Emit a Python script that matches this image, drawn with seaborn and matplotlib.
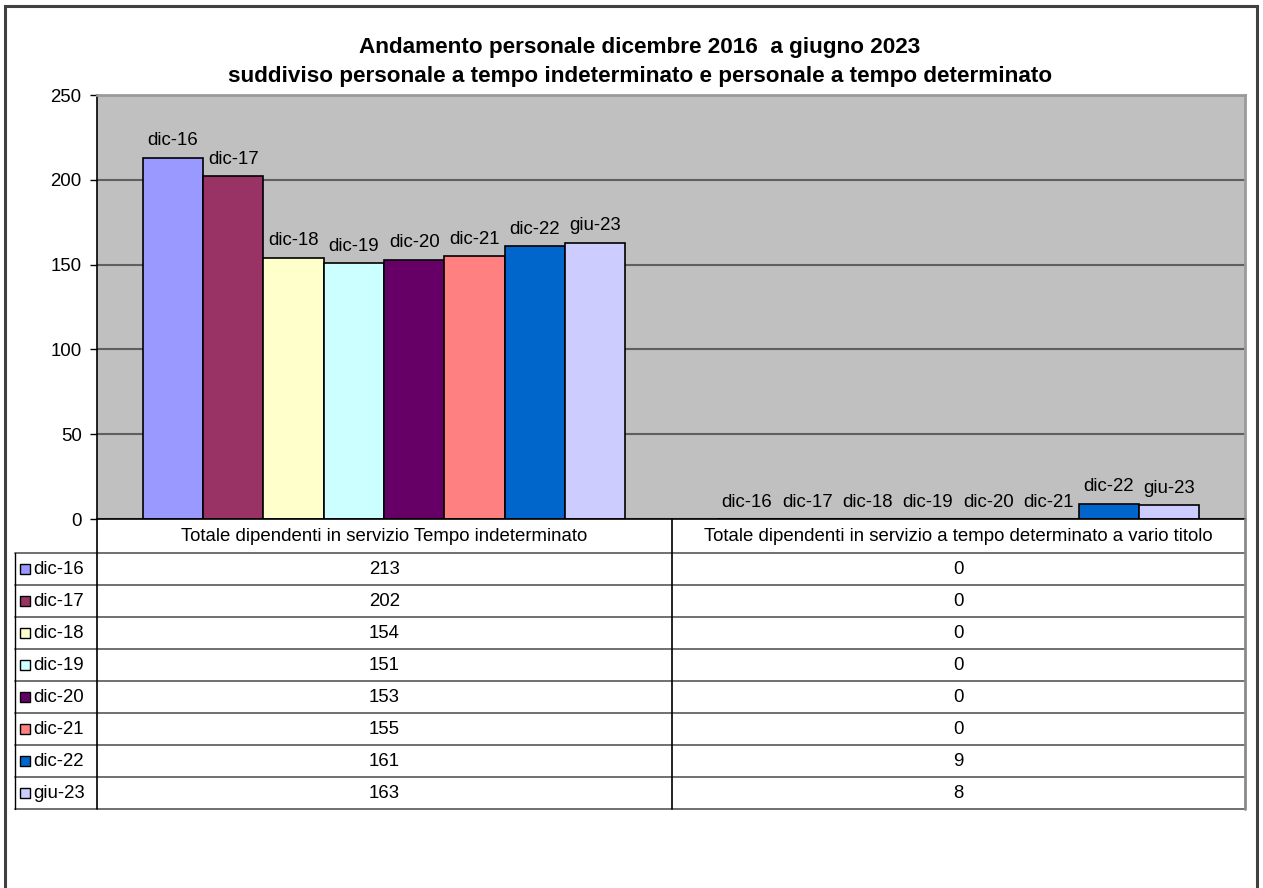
import pandas as pd
import matplotlib
matplotlib.use('Agg')
import matplotlib.pyplot as plt
from matplotlib.lines import Line2D
from matplotlib.patches import Rectangle
import seaborn as sns

# ── Data ──────────────────────────────────────────────────────────────────────
periodi    = ["dic-16", "dic-17", "dic-18", "dic-19", "dic-20", "dic-21", "dic-22", "giu-23"]
categorie  = ["Totale dipendenti in servizio Tempo indeterminato",
              "Totale dipendenti in servizio a tempo determinato a vario titolo"]
tempo_ind  = [213, 202, 154, 151, 153, 155, 161, 163]
tempo_det  = [0, 0, 0, 0, 0, 0, 9, 8]
colori     = ["#9999FF", "#993366", "#FFFFCC", "#CCFFFF",
              "#660066", "#FF8080", "#0066CC", "#CCCCFF"]
titolo     = ("Andamento personale dicembre 2016  a giugno 2023\n"
              "suddiviso personale a tempo indeterminato e personale a tempo determinato")

df = pd.DataFrame({
    "categoria": [categorie[0]] * len(periodi) + [categorie[1]] * len(periodi),
    "periodo":   periodi * 2,
    "valore":    tempo_ind + tempo_det,
})

sns.set_style("white")
plt.rcParams["font.family"] = ["Liberation Sans", "DejaVu Sans"]
plt.rcParams["text.color"] = "black"
plt.rcParams["ytick.color"] = "black"
FS = 13.4

W, H = 1263, 888
def fx(px): return px / W
def fy(py): return 1 - py / H

fig = plt.figure(figsize=(W / 100, H / 100), dpi=100)
fig.patch.set_facecolor("white")

# ── Chart ────────────────────────────────────────────────────────────────────
ax = fig.add_axes([fx(97), fy(519), (1245 - 97) / W, (519 - 95) / H])
ax.set_facecolor("#C0C0C0")
sns.barplot(data=df, x="categoria", y="valore", hue="periodo",
            order=categorie, hue_order=periodi, palette=colori, saturation=1,
            width=0.84, edgecolor="black", linewidth=1.2, legend=False, ax=ax)

for cont, name in zip(ax.containers, periodi):
    ax.bar_label(cont, labels=[name] * len(cont), padding=6, fontsize=FS, color="black")

ax.set_ylim(0, 250)
ax.set_yticks(range(0, 251, 50))
ax.set_xlim(-0.5, 1.5)
ax.set_xticks([])
ax.set_xlabel("")
ax.set_ylabel("")
ax.yaxis.grid(True, color="#5f5f5f", linewidth=1.5)
ax.set_axisbelow(True)
ax.tick_params(axis="y", direction="out", length=5, width=1, color="black",
               labelcolor="black", labelsize=FS, pad=6, left=True)
for s in ["left", "bottom"]:
    ax.spines[s].set_color("black")
    ax.spines[s].set_linewidth(1.2)
for s in ["top", "right"]:
    ax.spines[s].set_color("#9a9a9a")
    ax.spines[s].set_linewidth(2)

fig.text(fx(640), fy(62), titolo, ha="center", va="center", fontsize=16.2,
         fontweight="bold", linespacing=1.45, color="black")

# ── Data table under the chart ───────────────────────────────────────────────
top_h, top_r, row_h = 519, 553, 32
bottom = top_r + row_h * len(periodi)
x_leg, x_ax, x_mid, x_right = 15, 97, 672, 1245

def hline(y, x0, x1, color, lw):
    fig.add_artist(Line2D([fx(x0), fx(x1)], [fy(y), fy(y)], color=color, lw=lw))

def vline(x, y0, y1, color, lw):
    fig.add_artist(Line2D([fx(x), fx(x)], [fy(y0), fy(y1)], color=color, lw=lw))

for i in range(len(periodi) + 1):
    hline(top_r + row_h * i, x_leg, x_right, "#707070", 1.4)
vline(x_leg, top_r, bottom, "black", 1)
vline(x_ax, top_h, bottom, "black", 1.2)
vline(x_mid, top_h, bottom, "black", 1.2)
vline(x_right, top_h, bottom, "#8a8a8a", 2)

for cx, lab in zip([(x_ax + x_mid) / 2, (x_mid + x_right) / 2], categorie):
    fig.text(fx(cx), fy((top_h + top_r) / 2), lab, ha="center", va="center", fontsize=FS)

for i, (p, c, a, b) in enumerate(zip(periodi, colori, tempo_ind, tempo_det)):
    yc = top_r + row_h * i + row_h / 2
    fig.add_artist(Rectangle((fx(20), fy(yc + 5)), 10 / W, 10 / H,
                             facecolor=c, edgecolor="black", lw=1,
                             transform=fig.transFigure))
    fig.text(fx(33), fy(yc), p, ha="left", va="center", fontsize=FS)
    fig.text(fx((x_ax + x_mid) / 2), fy(yc), str(a), ha="center", va="center", fontsize=FS)
    fig.text(fx((x_mid + x_right) / 2), fy(yc), str(b), ha="center", va="center", fontsize=FS)

# outer frame
fig.add_artist(Rectangle((fx(5), fy(895)), 1252 / W, 889 / H, facecolor="none",
                         edgecolor="#404040", lw=2.2, transform=fig.transFigure))

fig.savefig("out.png", dpi=100)
plt.close(fig)
